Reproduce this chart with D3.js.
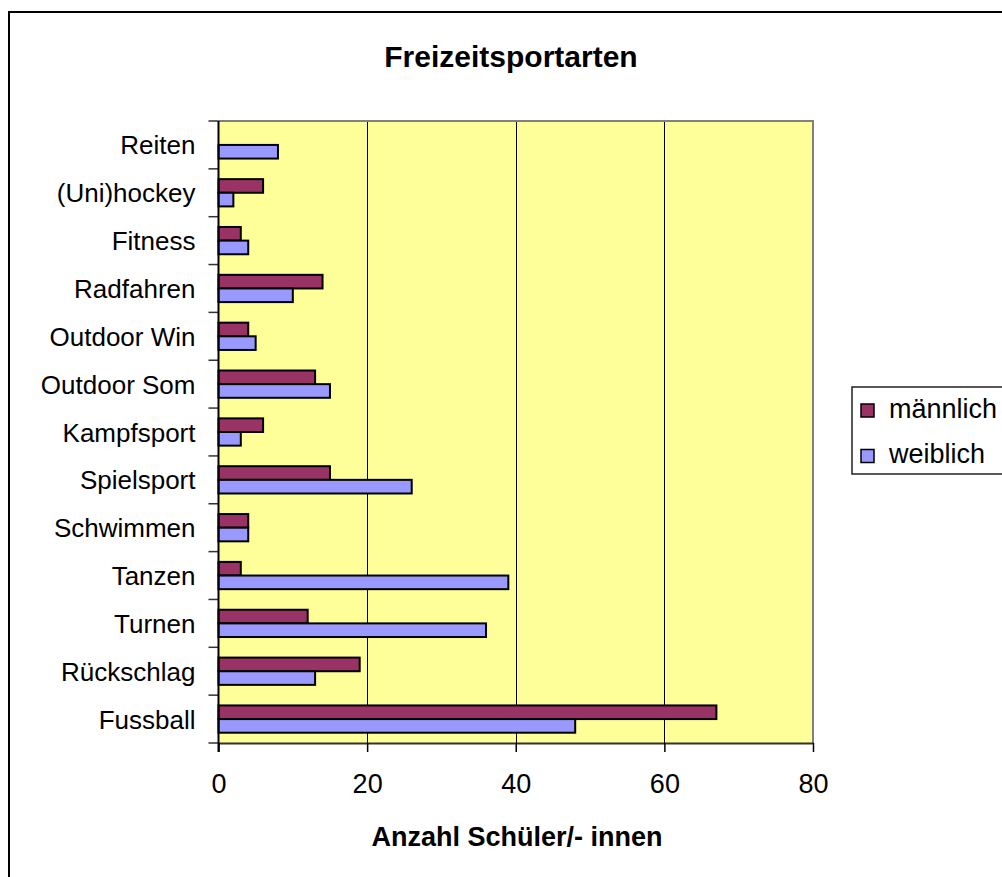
<!DOCTYPE html>
<html>
<head>
<meta charset="utf-8">
<script src="https://cdn.jsdelivr.net/npm/d3@7"></script>
<style>
  html, body { margin: 0; padding: 0; background: #fff; }
  svg { display: block; font-family: "Liberation Sans", Arial, sans-serif; }
</style>
</head>
<body>
<svg id="chart" width="1002" height="877"></svg>
<script>
// ---- data ----
const categories = ["Reiten", "(Uni)hockey", "Fitness", "Radfahren", "Outdoor Win", "Outdoor Som",
  "Kampfsport", "Spielsport", "Schwimmen", "Tanzen", "Turnen", "Rückschlag", "Fussball"];
const seriesNames = ["männlich", "weiblich"];
const maennlich = [0, 6, 3, 14, 4, 13, 6, 15, 4, 3, 12, 19, 67];
const weiblich  = [8, 2, 4, 10, 5, 15, 3, 26, 4, 39, 36, 13, 48];
const xTicks = [0, 20, 40, 60, 80];
const title = "Freizeitsportarten";
const xTitle = "Anzahl Schüler/- innen";

const colors = { "männlich": "#993366", "weiblich": "#9999FF" };
const values = { "männlich": maennlich, "weiblich": weiblich };

const svg = d3.select("#chart");

// outer frame
svg.append("rect").attr("x", 9).attr("y", 12).attr("width", 1010).attr("height", 880)
  .attr("fill", "#fff").attr("stroke", "#000").attr("stroke-width", 2);

const plot = { left: 218.5, right: 813, top: 121, bottom: 743 };

const x = d3.scaleLinear().domain([0, 80]).range([plot.left, plot.right]);
const y = d3.scaleBand().domain(categories).range([plot.top, plot.bottom]).padding(0);
const bw = y.bandwidth();
const ys = d3.scaleBand().domain(seriesNames).range([bw * 0.215, bw * 0.785]).padding(0);

// plot background
svg.append("rect").attr("x", plot.left).attr("y", plot.top)
  .attr("width", plot.right - plot.left).attr("height", plot.bottom - plot.top)
  .attr("fill", "#FFFF99");

// gridlines
svg.append("g").selectAll("line").data(xTicks.filter(t => t > 0 && t < 80)).join("line")
  .attr("x1", d => Math.round(x(d)) + 0.5).attr("x2", d => Math.round(x(d)) + 0.5)
  .attr("y1", plot.top).attr("y2", plot.bottom)
  .attr("stroke", "#000").attr("stroke-width", 1);

// plot border top & right (gray)
svg.append("path")
  .attr("d", `M${plot.left},${plot.top} H${plot.right} V${plot.bottom}`)
  .attr("fill", "none").attr("stroke", "#808080").attr("stroke-width", 2);

// bars
const rows = [];
categories.forEach((c, i) => seriesNames.forEach(s => rows.push({ c, s, v: values[s][i] })));
svg.append("g").selectAll("rect").data(rows.filter(d => d.v > 0)).join("rect")
  .attr("x", x(0))
  .attr("y", d => y(d.c) + ys(d.s))
  .attr("width", d => x(d.v) - x(0))
  .attr("height", ys.bandwidth())
  .attr("fill", d => colors[d.s])
  .attr("stroke", "#000").attr("stroke-width", 2);

// x axis
const xAxis = svg.append("g").attr("transform", `translate(0,${plot.bottom})`)
  .call(d3.axisBottom(x).tickValues(xTicks).tickSize(9).tickPadding(22).tickSizeOuter(0));
xAxis.select(".domain").attr("stroke", "#333").attr("stroke-width", 2);
xAxis.selectAll(".tick line").attr("stroke", "#000").attr("stroke-width", 1.5);
xAxis.selectAll(".tick text").attr("font-size", 27).attr("fill", "#000")
  .attr("font-family", "'Liberation Sans', Arial, sans-serif");

// y axis: labels
const yAxis = svg.append("g").attr("transform", `translate(${plot.left},0)`)
  .call(d3.axisLeft(y).tickSize(0).tickPadding(23));
yAxis.select(".domain").remove();
yAxis.selectAll(".tick text").attr("font-size", 26).attr("fill", "#000").attr("dy", "9.5px")
  .attr("font-family", "'Liberation Sans', Arial, sans-serif");

// y axis: boundary ticks and line
const bounds = categories.map(c => y(c)).concat([plot.bottom]);
svg.append("g").selectAll("line").data(bounds).join("line")
  .attr("x1", plot.left - 10).attr("x2", plot.left)
  .attr("y1", d => d).attr("y2", d => d)
  .attr("stroke", "#333").attr("stroke-width", 1.5);
svg.append("line").attr("x1", plot.left).attr("x2", plot.left)
  .attr("y1", plot.top).attr("y2", plot.bottom + 9)
  .attr("stroke", "#000").attr("stroke-width", 2);

// titles
svg.append("text").attr("x", 511).attr("y", 67).attr("text-anchor", "middle")
  .attr("font-size", 30).attr("font-weight", "bold").text(title);
svg.append("text").attr("x", 517).attr("y", 846).attr("text-anchor", "middle")
  .attr("font-size", 27).attr("font-weight", "bold").text(xTitle);

// legend
const lg = svg.append("g");
lg.append("rect").attr("x", 852).attr("y", 387).attr("width", 170).attr("height", 87)
  .attr("fill", "#fff").attr("stroke", "#222").attr("stroke-width", 1.5);
seriesNames.forEach((s, i) => {
  const yy = 404 + i * 45.5;
  lg.append("rect").attr("x", 861).attr("y", yy).attr("width", 13).attr("height", 13)
    .attr("fill", colors[s]).attr("stroke", "#000").attr("stroke-width", 1.5);
  lg.append("text").attr("x", 889).attr("y", yy + 13.5).attr("font-size", 27).text(s);
});
</script>
</body>
</html>
